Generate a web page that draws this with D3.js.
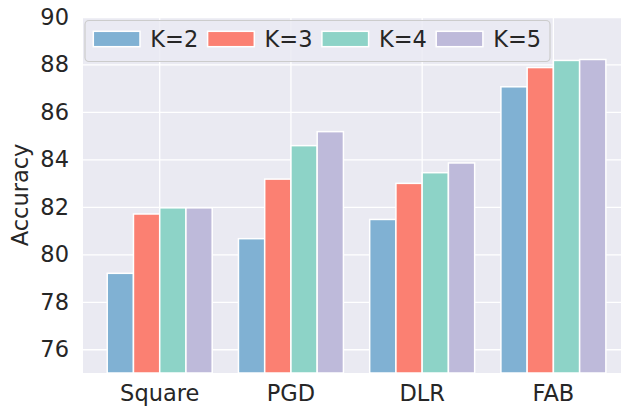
<!DOCTYPE html>
<html>
<head>
<meta charset="utf-8">
<script src="https://cdn.jsdelivr.net/npm/d3@7"></script>
<style>
  html, body { margin: 0; padding: 0; background: #fff; }
  svg { display: block; font-family: "DejaVu Sans", sans-serif; }
</style>
</head>
<body>
<svg id="chart" width="621" height="408"></svg>
<script>
// Attack methods on the x axis
const categories = ["Square", "PGD", "DLR", "FAB"];
// One series per K
const seriesNames = ["K=2", "K=3", "K=4", "K=5"];
const k2 = [79.2, 80.66, 81.47, 87.06];
const k3 = [81.7, 83.17, 82.99, 87.87];
const k4 = [81.96, 84.58, 83.44, 88.17];
const k5 = [81.96, 85.17, 83.85, 88.21];
const yTicks = [76, 78, 80, 82, 84, 86, 88, 90];
const colors = ["#80b1d3", "#fb8072", "#8dd3c7", "#bebada"];

const seriesValues = [k2, k3, k4, k5];
const rows = categories.map((c, i) => ({
  category: c,
  values: seriesNames.map((s, j) => ({ key: s, value: seriesValues[j][i] }))
}));

const svg = d3.select("#chart");
const plot = { left: 83, top: 17, right: 631, bottom: 373 };
const textColor = "#262626";
const fontSize = 22.5;

const x = d3.scaleBand()
  .domain(categories)
  .range([94.1, 619])
  .paddingInner(0).paddingOuter(0);
const step = x.bandwidth();
const xSub = d3.scaleBand()
  .domain(seriesNames)
  .range([0.1 * step, 0.9 * step])
  .padding(0);
const y = d3.scaleLinear().domain([75, 90]).range([plot.bottom, plot.top]);
const color = d3.scaleOrdinal().domain(seriesNames).range(colors);

// Panel background
svg.append("rect")
  .attr("x", plot.left).attr("y", plot.top)
  .attr("width", plot.right - plot.left).attr("height", plot.bottom - plot.top)
  .attr("fill", "#eaeaf2");

// Horizontal grid + y tick labels
const yAxis = svg.append("g")
  .attr("transform", `translate(${plot.left},0)`)
  .call(d3.axisLeft(y).tickValues(yTicks).tickSize(-(plot.right - plot.left)).tickPadding(14));
yAxis.select(".domain").remove();
yAxis.selectAll(".tick line").attr("stroke", "#fff").attr("stroke-width", 1.3);
yAxis.selectAll(".tick text")
  .attr("fill", textColor).attr("font-size", fontSize)
  .attr("font-family", "DejaVu Sans, sans-serif");

// Vertical grid at category centers + x tick labels
const xAxis = svg.append("g")
  .attr("transform", `translate(0,${plot.bottom})`)
  .call(d3.axisBottom(x).tickSize(-(plot.bottom - plot.top)).tickPadding(12));
xAxis.select(".domain").remove();
xAxis.selectAll(".tick line").attr("stroke", "#fff").attr("stroke-width", 1.3);
xAxis.selectAll(".tick text")
  .attr("fill", textColor).attr("font-size", fontSize)
  .attr("font-family", "DejaVu Sans, sans-serif");

// Bars
const groups = svg.append("g").selectAll("g")
  .data(rows).join("g")
  .attr("transform", d => `translate(${x(d.category)},0)`);
groups.selectAll("rect")
  .data(d => d.values).join("rect")
  .attr("x", d => xSub(d.key))
  .attr("width", xSub.bandwidth())
  .attr("y", d => y(d.value))
  .attr("height", d => plot.bottom - y(d.value))
  .attr("fill", d => color(d.key))
  .attr("stroke", "#fff")
  .attr("stroke-width", 1.5);

// Y axis title
svg.append("text")
  .attr("transform", `translate(28,${(plot.top + plot.bottom) / 2}) rotate(-90)`)
  .attr("text-anchor", "middle")
  .attr("fill", textColor).attr("font-size", fontSize)
  .text("Accuracy");

// Legend
const legend = svg.append("g");
legend.append("rect")
  .attr("x", 85).attr("y", 20.5)
  .attr("width", 465).attr("height", 41)
  .attr("rx", 4).attr("ry", 4)
  .attr("fill", "#eaeaf2").attr("fill-opacity", 0.8)
  .attr("stroke", "#cccccc").attr("stroke-width", 1.2);
const entries = legend.selectAll("g.entry")
  .data(seriesNames).join("g")
  .attr("class", "entry")
  .attr("transform", (d, i) => `translate(${93.3 + i * 114.3},0)`);
entries.append("rect")
  .attr("x", 0).attr("y", 31.3)
  .attr("width", 46.7).attr("height", 15.4)
  .attr("fill", d => color(d))
  .attr("stroke", "#fff").attr("stroke-width", 1.5);
entries.append("text")
  .attr("x", 57).attr("y", 39).attr("dy", "0.36em")
  .attr("fill", textColor).attr("font-size", fontSize)
  .text(d => d);
</script>
</body>
</html>
